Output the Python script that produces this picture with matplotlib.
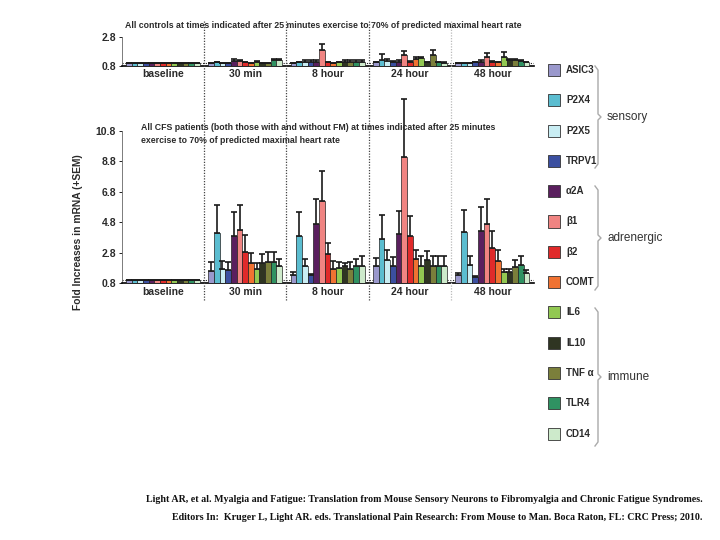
import matplotlib
matplotlib.use("Agg")
import matplotlib.pyplot as plt
import matplotlib.transforms as mtransforms
from matplotlib.patches import Rectangle
import numpy as np

plt.rcParams["font.family"] = ["Liberation Sans", "DejaVu Sans"]

genes = ["ASIC3", "P2X4", "P2X5", "TRPV1", "α2A", "β1", "β2", "COMT",
         "IL6", "IL10", "TNF α", "TLR4", "CD14"]
colors = ["#9a98cc", "#5bbdd0", "#c9edf3", "#3b4fa0", "#5a1f5e", "#f08482",
          "#e02a2a", "#f07232", "#92c852", "#2f3522", "#7b7f3b", "#2f9262",
          "#cdeacb"]
groups = ["baseline", "30 min", "8 hour", "24 hour", "48 hour"]

# controls (top panel)
ctl_baseline = [1.0, 1.0, 1.0, 1.0, 1.0, 1.0, 1.0, 1.0, 1.0, 1.0, 1.0, 1.0, 1.0]
ctl_baseline_sem = [0, 0, 0, 0, 0, 0, 0, 0, 0, 0, 0, 0, 0]
ctl_30min = [1.0, 1.05, 1.0, 1.0, 1.15, 1.15, 1.05, 1.0, 1.1, 1.0, 1.0, 1.2, 1.2]
ctl_30min_sem = [0.02, 0.05, 0.02, 0.02, 0.1, 0.08, 0.03, 0.02, 0.06, 0.02, 0.02, 0.05, 0.05]
ctl_8h = [1.0, 1.05, 1.1, 1.1, 1.1, 1.9, 1.05, 1.0, 1.05, 1.1, 1.1, 1.1, 1.1]
ctl_8h_sem = [0.02, 0.03, 0.1, 0.1, 0.1, 0.4, 0.03, 0.02, 0.05, 0.1, 0.12, 0.12, 0.1]
ctl_24h = [1.05, 1.2, 1.15, 1.1, 1.1, 1.55, 1.1, 1.25, 1.35, 1.05, 1.55, 1.05, 1.02]
ctl_24h_sem = [0.05, 0.45, 0.1, 0.05, 0.1, 0.3, 0.05, 0.15, 0.1, 0.03, 0.35, 0.03, 0.08]
ctl_48h = [1.0, 1.0, 1.0, 1.05, 1.1, 1.45, 1.1, 1.05, 1.45, 1.2, 1.2, 1.15, 1.05]
ctl_48h_sem = [0.02, 0.02, 0.02, 0.03, 0.1, 0.25, 0.05, 0.03, 0.3, 0.1, 0.1, 0.05, 0.03]

# CFS patients (bottom panel)
cfs_baseline = [1.0, 1.0, 1.0, 1.0, 1.0, 1.0, 1.0, 1.0, 1.0, 1.0, 1.0, 1.0, 1.0]
cfs_baseline_sem = [0, 0, 0, 0, 0, 0, 0, 0, 0, 0, 0, 0, 0]
cfs_30min = [1.6, 4.1, 1.75, 1.65, 3.9, 4.3, 2.85, 2.1, 1.7, 2.1, 2.2, 2.15, 1.9]
cfs_30min_sem = [0.6, 1.8, 0.5, 0.55, 1.6, 1.6, 1.1, 0.7, 0.4, 0.6, 0.65, 0.7, 0.5]
cfs_8h = [1.3, 3.9, 1.9, 1.3, 4.7, 6.2, 2.7, 1.7, 1.8, 1.9, 1.7, 1.9, 1.95]
cfs_8h_sem = [0.2, 1.6, 0.45, 0.1, 1.65, 2.0, 0.75, 0.55, 0.4, 0.2, 0.5, 0.5, 0.6]
cfs_24h = [1.9, 3.7, 2.3, 1.9, 4.0, 9.1, 3.9, 2.35, 1.95, 2.3, 1.95, 1.9, 1.9]
cfs_24h_sem = [0.55, 1.55, 0.65, 0.6, 1.55, 3.8, 1.3, 0.65, 0.6, 0.6, 0.6, 0.65, 0.65]
cfs_48h = [1.35, 4.15, 2.0, 1.2, 4.2, 4.65, 3.1, 2.25, 1.5, 1.55, 1.85, 2.0, 1.45]
cfs_48h_sem = [0.12, 1.45, 0.6, 0.05, 1.6, 1.65, 1.15, 0.7, 0.2, 0.2, 0.45, 0.55, 0.2]

ctl = [ctl_baseline, ctl_30min, ctl_8h, ctl_24h, ctl_48h]
ctl_sem = [ctl_baseline_sem, ctl_30min_sem, ctl_8h_sem, ctl_24h_sem, ctl_48h_sem]
cfs = [cfs_baseline, cfs_30min, cfs_8h, cfs_24h, cfs_48h]
cfs_sem = [cfs_baseline_sem, cfs_30min_sem, cfs_8h_sem, cfs_24h_sem, cfs_48h_sem]

BAR_W = 0.069
TXT = "#2a2a2a"


def draw_panel(ax, means, sems, ymin, ymax, ticks):
    n = len(genes)
    offs = (np.arange(n) - (n - 1) / 2) * BAR_W
    for g in range(len(groups)):
        x = g + offs
        m = np.array(means[g])
        s = np.array(sems[g])
        ax.bar(x, m, width=BAR_W, color=colors, edgecolor="#222222",
               linewidth=0.5, zorder=3)
        eb = ax.errorbar(x, m, yerr=[np.zeros(n), s], fmt="none",
                         ecolor="#1a1a1a", elinewidth=1.2, capsize=2.2,
                         capthick=1.2, zorder=4)
        for art in eb.get_children():
            art.set_clip_on(False)
    ax.axhline(1.0, color="#222222", ls=(0, (1, 1.5)), lw=0.8, zorder=2)
    ax.set_xlim(-0.5, len(groups) - 0.5)
    ax.set_ylim(ymin, ymax)
    ax.set_yticks(ticks)
    ax.set_yticklabels([f"{t:.1f}" for t in ticks], fontsize=7.5,
                       fontweight="bold", color=TXT)
    ax.set_xticks(range(len(groups)))
    ax.set_xticklabels(groups, fontsize=7.5, fontweight="bold", color=TXT)
    ax.tick_params(axis="x", length=0, pad=3)
    ax.tick_params(axis="y", length=2, width=0.6, pad=2)
    for sp in ["top", "right"]:
        ax.spines[sp].set_visible(False)
    ax.spines["left"].set_linewidth(0.6)
    ax.spines["left"].set_color("#666666")
    ax.spines["bottom"].set_linewidth(1.2)
    ax.set_facecolor("none")


fig = plt.figure(figsize=(7.2, 5.4), dpi=100)

ax_top = fig.add_axes([0.169, 1 - 66 / 540, 0.572, 29 / 540])
draw_panel(ax_top, ctl, ctl_sem, 0.8, 2.8, [0.8, 2.8])
ax_top.tick_params(axis="x", pad=2)
fig.text(125 / 720, 1 - 26 / 540,
         "All controls at times indicated after 25 minutes exercise to 70% of predicted maximal heart rate",
         fontsize=6.3, fontweight="bold", color=TXT, va="center", ha="left")

ax_bot = fig.add_axes([0.169, 1 - 283 / 540, 0.572, 152 / 540])
draw_panel(ax_bot, cfs, cfs_sem, 0.8, 10.8, [0.8, 2.8, 4.8, 6.8, 8.8, 10.8])
fig.text(141 / 720, 1 - 134 / 540,
         "All CFS patients (both those with and without FM) at times indicated after 25 minutes\n"
         "exercise to 70% of predicted maximal heart rate",
         fontsize=6.3, fontweight="bold", color=TXT, va="center", ha="left",
         linespacing=1.45)
fig.text(78 / 720, 1 - 232 / 540, "Fold Increases in mRNA (+SEM)", rotation=90,
         fontsize=7.4, fontweight="bold", color=TXT, ha="center", va="center")

# dotted group dividers spanning both panels
trans = mtransforms.blended_transform_factory(ax_bot.transData, fig.transFigure)
for i, xd in enumerate([0.5, 1.5, 2.5, 3.5]):
    col = "#bbbbbb" if i == 3 else "#444444"
    fig.add_artist(plt.Line2D([xd, xd], [1 - 300 / 540, 1 - 20 / 540],
                              transform=trans, color=col, lw=0.9,
                              ls=(0, (1, 1.2))))

# legend
for i, (name, c) in enumerate(zip(genes, colors)):
    yc = 1 - (70 + i * 30.3) / 540
    fig.add_artist(Rectangle((548 / 720, yc - 6 / 540), 12 / 720, 12 / 540,
                             transform=fig.transFigure, facecolor=c,
                             edgecolor="#333333", lw=0.6))
    fig.text(566 / 720, yc, name, fontsize=7, fontweight="bold", color=TXT,
             va="center", ha="left")


def brace(y0, y1, x, label):
    f0 = 1 - y0 / 540
    f1 = 1 - y1 / 540
    xf = x / 720
    dx = 3 / 720
    mid = (f0 + f1) / 2
    xs = [xf - dx, xf, xf, xf + dx, xf, xf, xf - dx]
    ys = [f0, f0 - 4 / 540, mid + 3 / 540, mid, mid - 3 / 540, f1 + 4 / 540, f1]
    fig.add_artist(plt.Line2D(xs, ys, transform=fig.transFigure,
                              color="#aaaaaa", lw=1.0))
    fig.text(xf + 9 / 720, mid, label, fontsize=8.5, color="#333333",
             va="center", ha="left")


brace(66, 168, 598, "sensory")
brace(186, 290, 598, "adrenergic")
brace(308, 446, 598, "immune")

fig.text(703 / 720, 1 - 500 / 540,
         "Light AR, et al. Myalgia and Fatigue: Translation from Mouse Sensory Neurons to Fibromyalgia and Chronic Fatigue Syndromes.",
         fontsize=7.2, family="Liberation Serif", fontweight="bold", ha="right",
         va="center", color="#111111")
fig.text(703 / 720, 1 - 517 / 540,
         "Editors In:  Kruger L, Light AR. eds. Translational Pain Research: From Mouse to Man. Boca Raton, FL: CRC Press; 2010.",
         fontsize=7.2, family="Liberation Serif", fontweight="bold", ha="right",
         va="center", color="#111111")

fig.savefig("out.png", dpi=100)
